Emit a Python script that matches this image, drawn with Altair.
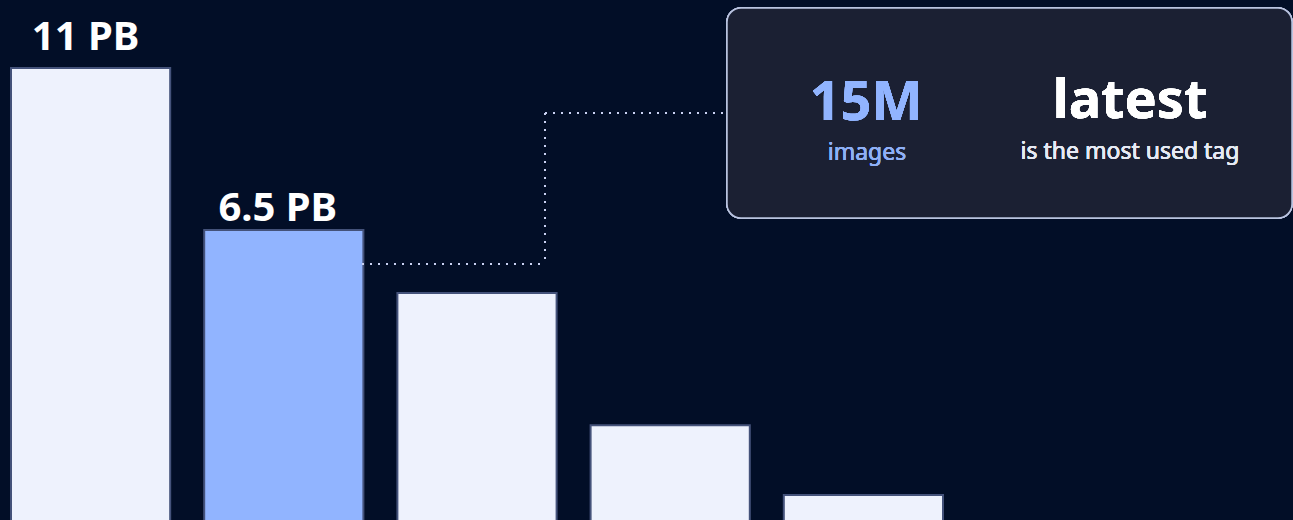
import altair as alt
import pandas as pd

# ---- data ----
categories = ["1", "2", "3", "4", "5"]
storage_pb = [11, 6.5, 5.3, 3.45, 2.75]
value_labels = ["11 PB", "6.5 PB", "", "", ""]
group = ["normal", "highlight", "normal", "normal", "normal"]

stat_value = ["15M", "latest"]
stat_caption = ["images", "is the most used tag"]

df = pd.DataFrame({
    "cat": categories,
    "pb": storage_pb,
    "label": value_labels,
    "grp": group,
})

BG = "#020e27"
FONT = "Noto Sans"

x_enc = alt.X("cat:N", axis=None,
              scale=alt.Scale(domain=categories, range=[11, 943],
                              paddingInner=0.176, paddingOuter=0))
y_scale = alt.Scale(type="log", domain=[2.536, 13.72], nice=False, zero=False)

base = alt.Chart(df)

bars = base.mark_bar(stroke="#44527a", strokeWidth=2).encode(
    x=x_enc,
    y=alt.Y("pb:Q", axis=None, scale=y_scale),
    y2=alt.datum(2.49),
    fill=alt.Fill("grp:N", scale=alt.Scale(domain=["normal", "highlight"],
                                           range=["#eef2fd", "#91b4ff"]),
                  legend=None),
)

lab1 = base.transform_filter(alt.datum.cat == "1").mark_text(
    font=FONT, fontSize=40, fontWeight="bold", color="#ffffff",
    align="center", baseline="alphabetic", dy=-18, dx=-5,
).encode(x=x_enc, y=alt.Y("pb:Q", scale=y_scale), text="label:N")

lab2 = base.transform_filter(alt.datum.cat == "2").mark_text(
    font=FONT, fontSize=40, fontWeight="bold", color="#ffffff",
    align="center", baseline="alphabetic", dy=-9, dx=-6,
).encode(x=x_enc, y=alt.Y("pb:Q", scale=y_scale), text="label:N")

dot = dict(color="#c9d1f2", strokeWidth=2, strokeDash=[2, 6])
conn1 = alt.Chart(df).mark_rule(**dot).encode(
    x=alt.value(362), x2=alt.value(545), y=alt.value(264))
conn2 = alt.Chart(df).mark_rule(**dot).encode(
    x=alt.value(545), y=alt.value(113), y2=alt.value(264))
conn3 = alt.Chart(df).mark_rule(**dot).encode(
    x=alt.value(545), x2=alt.value(727), y=alt.value(113))

box = alt.Chart(df).mark_rect(
    fill="#1b2033", stroke="#b9c3e0", strokeWidth=1.5, cornerRadius=14
).encode(x=alt.value(727), x2=alt.value(1292), y=alt.value(8), y2=alt.value(218))

t15 = alt.Chart(df).mark_text(
    text=stat_value[0], font=FONT, fontSize=54, fontWeight="bold",
    color="#91b4ff", align="center", baseline="alphabetic"
).encode(x=alt.value(866), y=alt.value(120))
timg = alt.Chart(df).mark_text(
    text=stat_caption[0], font=FONT, fontSize=23,
    color="#8fb0f5", align="center", baseline="alphabetic"
).encode(x=alt.value(867), y=alt.value(160))
tlat = alt.Chart(df).mark_text(
    text=stat_value[1], font=FONT, fontSize=54, fontWeight="bold",
    color="#ffffff", align="center", baseline="alphabetic"
).encode(x=alt.value(1130), y=alt.value(118))
ttag = alt.Chart(df).mark_text(
    text=stat_caption[1], font=FONT, fontSize=23,
    color="#e6eaf4", align="center", baseline="alphabetic"
).encode(x=alt.value(1130), y=alt.value(159))

chart = alt.layer(
    bars, lab1, lab2, conn1, conn2, conn3, box, t15, timg, tlat, ttag
).properties(
    width=1293, height=520, background=BG, padding=0,
    autosize=alt.AutoSizeParams(type="none"),
).configure_view(stroke=None)

chart.save("out.html", embed_options={"renderer": "svg", "actions": False})
